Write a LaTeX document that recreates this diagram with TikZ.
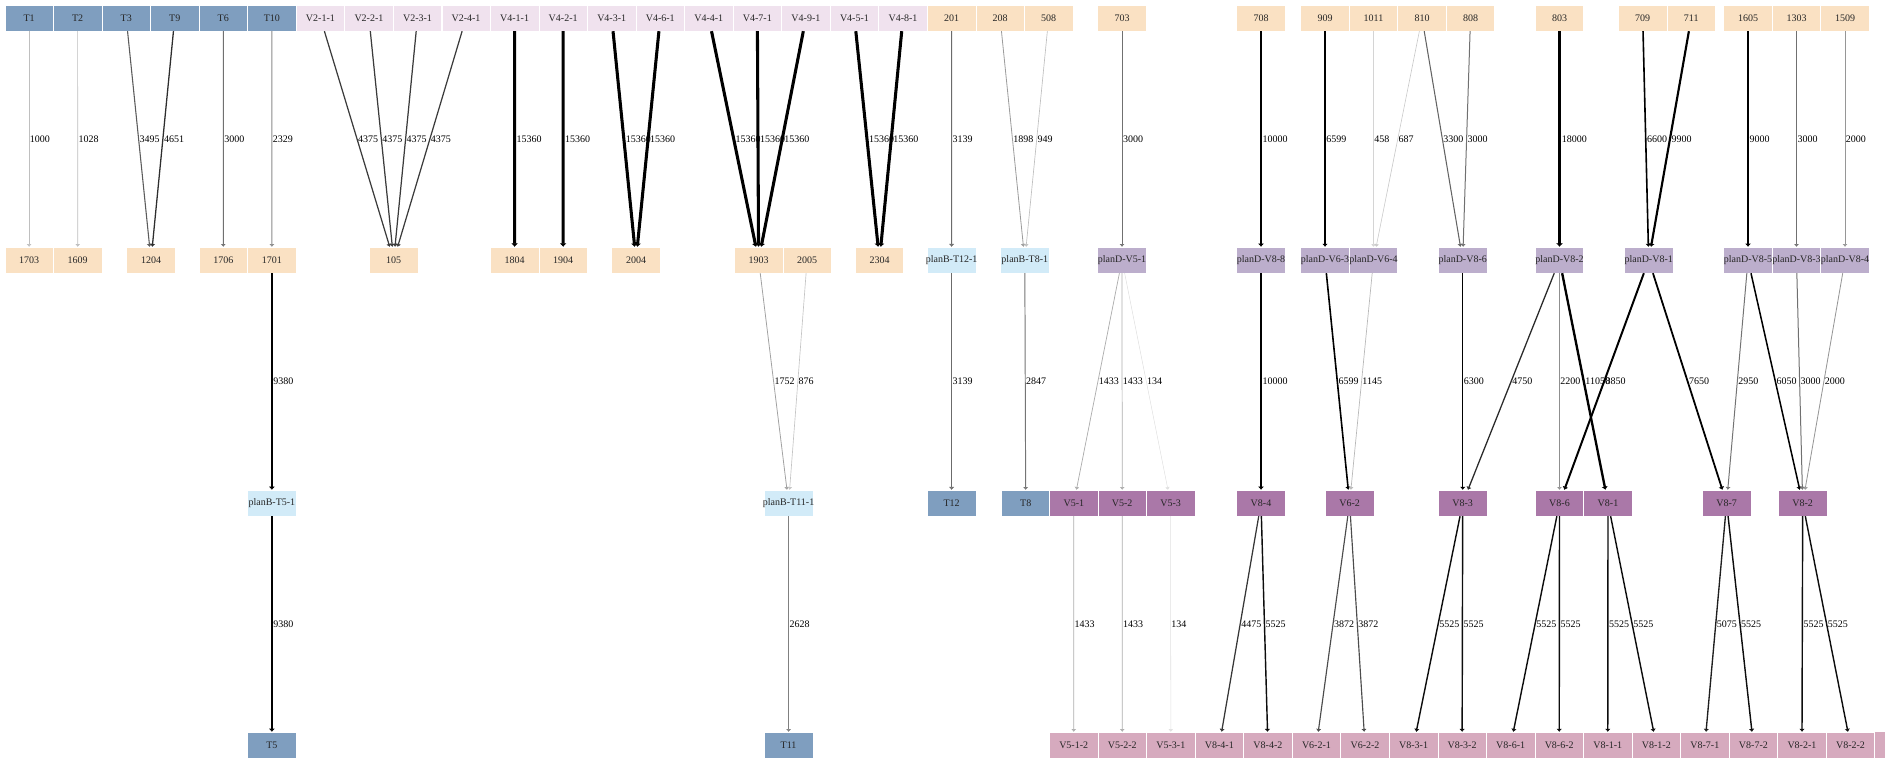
\documentclass[tikz,border=0pt]{standalone}
\usepackage{fontspec}
\setmainfont{Liberation Serif}
\usetikzlibrary{arrows.meta}
\pgfdeclarelayer{bg}
\pgfsetlayers{bg,main}
\definecolor{tcol}{RGB}{127,158,191}
\definecolor{vlcol}{RGB}{240,226,238}
\definecolor{numcol}{RGB}{250,225,195}
\definecolor{pbcol}{RGB}{210,235,248}
\definecolor{pdcol}{RGB}{188,174,204}
\definecolor{vmcol}{RGB}{170,120,168}
\definecolor{vfcol}{RGB}{214,170,190}
\tikzset{
 box/.style={rectangle, minimum width=48.5pt, minimum height=26pt, inner sep=0pt, font=\fontsize{10}{12}\selectfont, text=black!85,
   append after command={\pgfextra{\begin{pgfonlayer}{bg}\filldraw[fill=#1, draw=white, line width=0.6pt] (\tikzlastnode.center) ++(-24.25,-13) rectangle ++(48.5,26);\end{pgfonlayer}}}},
 tb/.style={box=tcol},
 vl/.style={box=vlcol},
 nb/.style={box=numcol},
 pb/.style={box=pbcol},
 pd/.style={box=pdcol},
 vm/.style={box=vmcol},
 vf/.style={box=vfcol},
 elabel/.style={anchor=west, font=\fontsize{10}{12}\selectfont, inner sep=0.5pt, text=black},
}
\newcommand\edg[3]{%
 \edef\elwh{\the\numexpr 50+#3/60\relax}%
 \edef\egp{\the\numexpr 10+#3/65\relax}%
 \ifnum\egp>100 \def\egp{100}\fi
 \pgfmathsetmacro\elw{\elwh/100}%
 \draw[line width=\elw pt, draw=black!\egp, -{Latex[length=2.5pt 0.3,width=4.5pt 0.8]}] (#1) -- (#2) node[elabel, midway]{#3};}
\begin{document}
\begin{tikzpicture}[x=1pt,y=-1pt]
\useasboundingbox (0,0) rectangle (1885,760);
% row 1
\foreach \nm [count=\i from 0] in {T1,T2,T3,T9,T6,T10}
  \node[tb] (\nm) at ({29.1+48.55*\i},18) {\nm};
\foreach \nm [count=\i from 6] in {V2-1-1,V2-2-1,V2-3-1,V2-4-1,V4-1-1,V4-2-1,V4-3-1,V4-6-1,V4-4-1,V4-7-1,V4-9-1,V4-5-1,V4-8-1}
  \node[vl] (\nm) at ({29.1+48.55*\i},18) {\nm};
\foreach \nm [count=\i from 19] in {201,208,508}
  \node[nb] (n\nm) at ({29.1+48.55*\i},18) {\nm};
\node[nb] (n703) at (1122,18) {703};
\node[nb] (n708) at (1261,18) {708};
\node[nb] (n909) at (1325,18) {909};
\node[nb] (n1011) at (1373.5,18) {1011};
\node[nb] (n810) at (1422,18) {810};
\node[nb] (n808) at (1470.5,18) {808};
\node[nb] (n803) at (1559.5,18) {803};
\node[nb] (n709) at (1642.7,18) {709};
\node[nb] (n711) at (1691.2,18) {711};
\node[nb] (n1605) at (1748,18) {1605};
\node[nb] (n1303) at (1796.5,18) {1303};
\node[nb] (n1509) at (1845,18) {1509};
% row 2
\node[nb] (n1703) at (29.1,260) {1703};
\node[nb] (n1609) at (77.7,260) {1609};
\node[nb] (n1204) at (151,260) {1204};
\node[nb] (n1706) at (223.3,260) {1706};
\node[nb] (n1701) at (271.9,260) {1701};
\node[nb] (n105) at (393.7,260) {105};
\node[nb] (n1804) at (514.6,260) {1804};
\node[nb] (n1904) at (563.2,260) {1904};
\node[nb] (n2004) at (636,260) {2004};
\node[nb] (n1903) at (758.6,260) {1903};
\node[nb] (n2005) at (807.1,260) {2005};
\node[nb] (n2304) at (879.5,260) {2304};
\node[pb] (pT12) at (951.6,260) {planB-T12-1};
\node[pb] (pT8) at (1024.8,260) {planB-T8-1};
\node[pd] (dV51) at (1122,260) {planD-V5-1};
\node[pd] (dV88) at (1261,260) {planD-V8-8};
\node[pd] (dV63) at (1325,260) {planD-V6-3};
\node[pd] (dV64) at (1373.5,260) {planD-V6-4};
\node[pd] (dV86) at (1462.7,260) {planD-V8-6};
\node[pd] (dV82) at (1559.5,260) {planD-V8-2};
\node[pd] (dV81) at (1648.7,260) {planD-V8-1};
\node[pd] (dV85) at (1748,260) {planD-V8-5};
\node[pd] (dV83) at (1796.5,260) {planD-V8-3};
\node[pd] (dV84) at (1845,260) {planD-V8-4};
% row 3
\node[pb] (pT5) at (271.9,503) {planB-T5-1};
\node[pb] (pT11) at (788.6,503) {planB-T11-1};
\node[tb] (T12) at (951.6,503) {T12};
\node[tb] (T8) at (1025.7,503) {T8};
\node[vm] (V5-1) at (1073.8,503) {V5-1};
\node[vm] (V5-2) at (1122.2,503) {V5-2};
\node[vm] (V5-3) at (1170.6,503) {V5-3};
\node[vm] (V8-4) at (1261,503) {V8-4};
\node[vm] (V6-2) at (1349.6,503) {V6-2};
\node[vm] (V8-3) at (1462.7,503) {V8-3};
\node[vm] (V8-6) at (1559.5,503) {V8-6};
\node[vm] (V8-1) at (1608,503) {V8-1};
\node[vm] (V8-7) at (1726.6,503) {V8-7};
\node[vm] (V8-2) at (1802.7,503) {V8-2};
% row 4
\node[tb] (T5) at (271.9,745) {T5};
\node[tb] (T11) at (788.6,745) {T11};
\foreach \nm [count=\i from 0] in {V5-1-2,V5-2-2,V5-3-1,V8-4-1,V8-4-2,V6-2-1,V6-2-2,V8-3-1,V8-3-2,V8-6-1,V8-6-2,V8-1-1,V8-1-2,V8-7-1,V8-7-2,V8-2-1,V8-2-2}
  \node[vf] (\nm) at ({1073.7+48.55*\i},745) {\nm};
\fill[vfcol] (1875.4,732.3) rectangle (1885,757.7);
% edges row1 -> row2
\edg{T1}{n1703}{1000}
\edg{T2}{n1609}{1028}
\edg{T3}{n1204}{3495}
\edg{T9}{n1204}{4651}
\edg{T6}{n1706}{3000}
\edg{T10}{n1701}{2329}
\edg{V2-1-1}{n105}{4375}
\edg{V2-2-1}{n105}{4375}
\edg{V2-3-1}{n105}{4375}
\edg{V2-4-1}{n105}{4375}
\edg{V4-1-1}{n1804}{15360}
\edg{V4-2-1}{n1904}{15360}
\edg{V4-3-1}{n2004}{15360}
\edg{V4-6-1}{n2004}{15360}
\edg{V4-4-1}{n1903}{15360}
\edg{V4-7-1}{n1903}{15360}
\edg{V4-9-1}{n1903}{15360}
\edg{V4-5-1}{n2304}{15360}
\edg{V4-8-1}{n2304}{15360}
\edg{n201}{pT12}{3139}
\edg{n208}{pT8}{1898}
\edg{n508}{pT8}{949}
\edg{n703}{dV51}{3000}
\edg{n708}{dV88}{10000}
\edg{n909}{dV63}{6599}
\edg{n1011}{dV64}{458}
\edg{n810}{dV64}{687}
\edg{n810}{dV86}{3300}
\edg{n808}{dV86}{3000}
\edg{n803}{dV82}{18000}
\edg{n709}{dV81}{6600}
\edg{n711}{dV81}{9900}
\edg{n1605}{dV85}{9000}
\edg{n1303}{dV83}{3000}
\edg{n1509}{dV84}{2000}
% edges row2 -> row3
\edg{n1701}{pT5}{9380}
\edg{n1903}{pT11}{1752}
\edg{n2005}{pT11}{876}
\edg{pT12}{T12}{3139}
\edg{pT8}{T8}{2847}
\edg{dV51}{V5-1}{1433}
\edg{dV51}{V5-2}{1433}
\edg{dV51}{V5-3}{134}
\edg{dV88}{V8-4}{10000}
\edg{dV63}{V6-2}{6599}
\edg{dV64}{V6-2}{1145}
\edg{dV86}{V8-3}{6300}
\edg{dV82}{V8-3}{4750}
\edg{dV82}{V8-6}{2200}
\edg{dV82}{V8-1}{11050}
\edg{dV81}{V8-6}{8850}
\edg{dV81}{V8-7}{7650}
\edg{dV85}{V8-7}{2950}
\edg{dV85}{V8-2}{6050}
\edg{dV83}{V8-2}{3000}
\edg{dV84}{V8-2}{2000}
% edges row3 -> row4
\edg{pT5}{T5}{9380}
\edg{pT11}{T11}{2628}
\edg{V5-1}{V5-1-2}{1433}
\edg{V5-2}{V5-2-2}{1433}
\edg{V5-3}{V5-3-1}{134}
\edg{V8-4}{V8-4-1}{4475}
\edg{V8-4}{V8-4-2}{5525}
\edg{V6-2}{V6-2-1}{3872}
\edg{V6-2}{V6-2-2}{3872}
\edg{V8-3}{V8-3-1}{5525}
\edg{V8-3}{V8-3-2}{5525}
\edg{V8-6}{V8-6-1}{5525}
\edg{V8-6}{V8-6-2}{5525}
\edg{V8-1}{V8-1-1}{5525}
\edg{V8-1}{V8-1-2}{5525}
\edg{V8-7}{V8-7-1}{5075}
\edg{V8-7}{V8-7-2}{5525}
\edg{V8-2}{V8-2-1}{5525}
\edg{V8-2}{V8-2-2}{5525}
\end{tikzpicture}
\end{document}
